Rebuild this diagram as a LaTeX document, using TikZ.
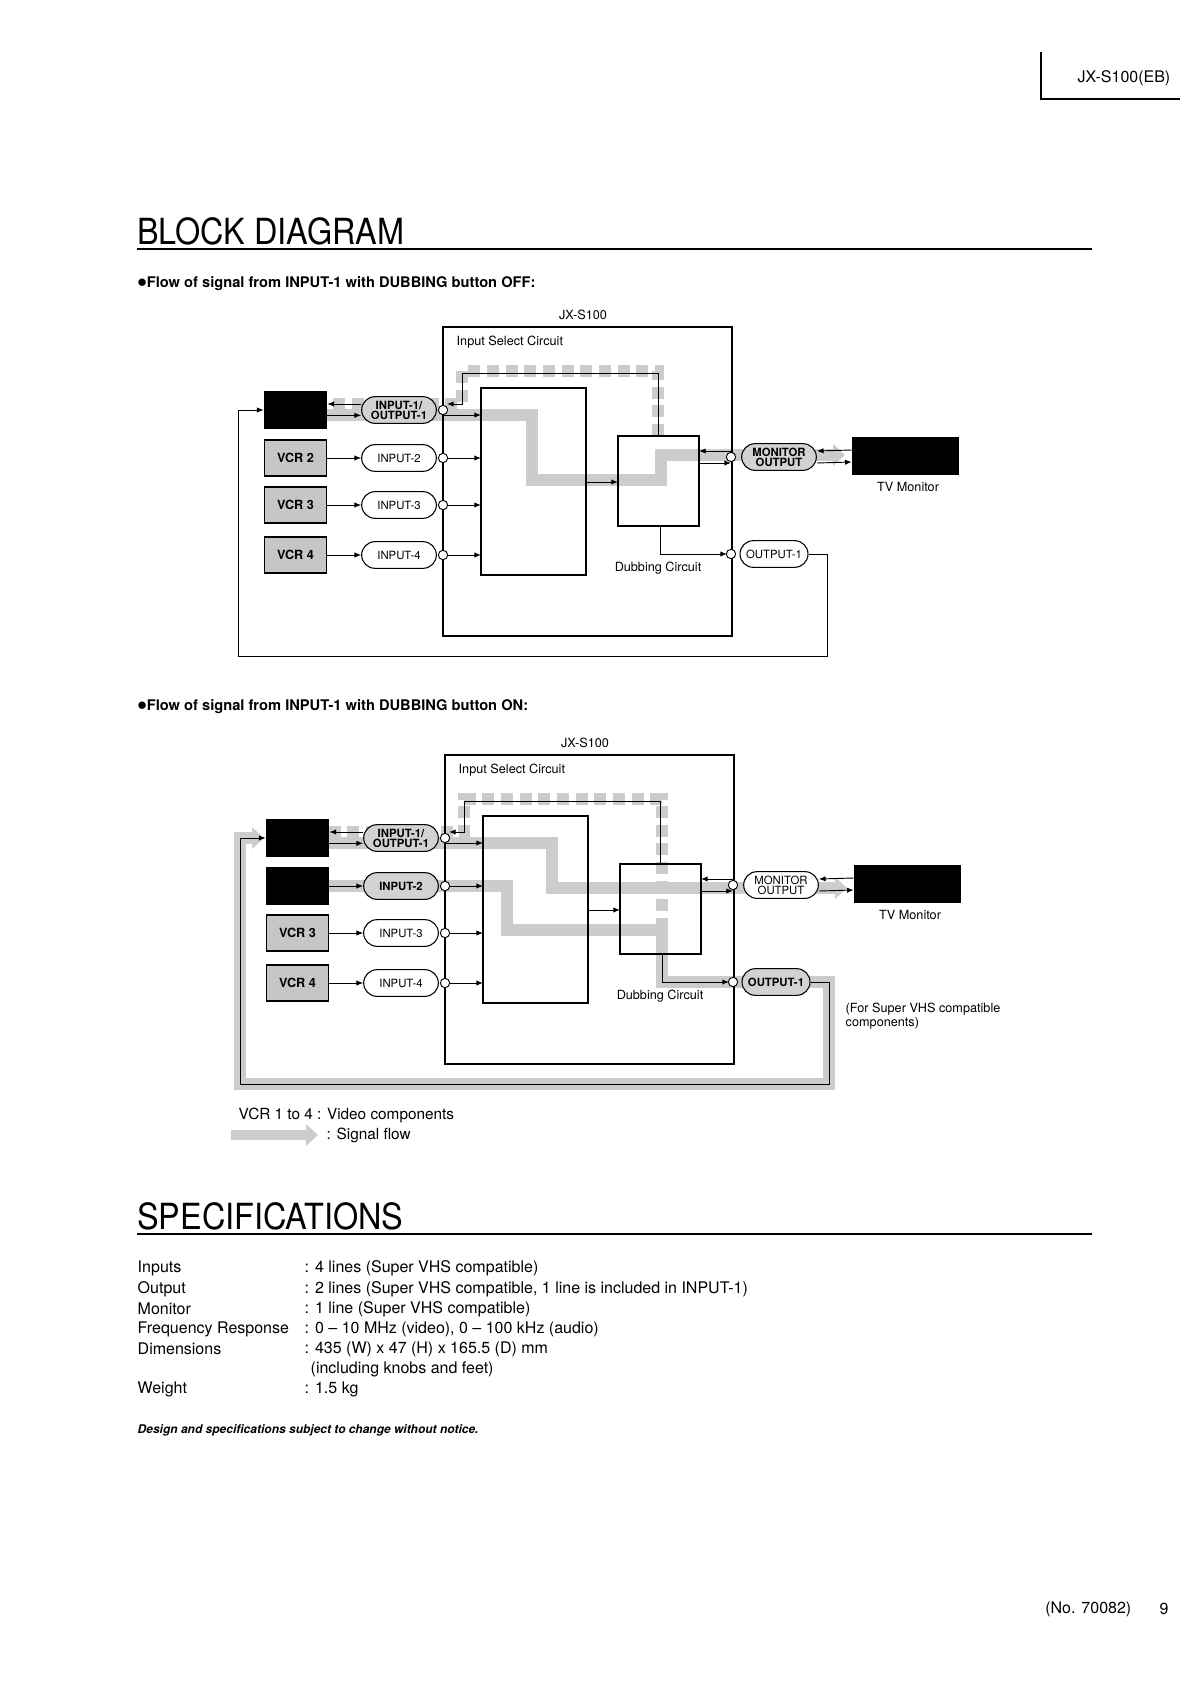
\documentclass[tikz,border=0pt]{standalone}
\usepackage{fontspec}
\setmainfont{TeX Gyre Heros}
\newfontfamily\condfont[FakeStretch=0.9]{TeX Gyre Heros}
\usetikzlibrary{shapes.misc,arrows.meta}
\tikzset{
 pill/.style={draw,rounded rectangle,fill=white,minimum width=57pt,minimum height=20pt,inner sep=0.5pt,align=center,line width=0.8pt,font=\fontsize{8.5}{7.5}\selectfont},
 pillon/.style={pill,fill=gray!35,font=\bfseries\fontsize{8.5}{7.5}\selectfont},
 vcr/.style={draw,minimum width=47pt,minimum height=27pt,fill=gray!45,line width=0.8pt,font=\bfseries\fontsize{9.5}{10}\selectfont},
 vcrblk/.style={vcr,fill=black},
 jack/.style={circle,draw,fill=white,minimum size=7pt,inner sep=0pt,line width=0.7pt},
 sig/.style={-{Latex[length=5pt,width=4pt]},line width=0.7pt},
 flow/.style={gray!40,line width=9pt,-{Triangle[length=9pt,width=16pt]}},
 flowd/.style={flow,dash pattern=on 9pt off 5pt},
 lbl/.style={font=\fontsize{9.5}{11}\selectfont},
 spec/.style={anchor=west,font=\fontsize{12}{12}\selectfont},
 bul/.style={anchor=west,inner sep=0pt,font=\bfseries\fontsize{11}{11}\selectfont}
}
\newcommand\blockdia[7]{%
 \draw[line width=0.8pt] (443,327) rectangle (732,636);
 \node[lbl,anchor=west] (#1isc) at (452,342) {Input Select Circuit};
 \node[lbl] (#1name) at (583,315) {JX-S100};
 \draw[line width=0.8pt] (481,388) coordinate (#1sNW) rectangle (586,575) coordinate (#1sSE);
 \draw[line width=0.8pt] (618,436) coordinate (#1dNW) rectangle (699,526) coordinate (#1dSE);
 \node[vcrblk] (#1v1) at (295.5,410) {};
 \node[#2] (#1v2) at (295.5,458) {#3};
 \node[vcr] (#1v3) at (295.5,505) {VCR 3};
 \node[vcr] (#1v4) at (295.5,555) {VCR 4};
 \node[pillon] (#1p1) at (399,410) {INPUT-1/\\OUTPUT-1};
 \node[#4] (#1p2) at (399,458) {INPUT-2};
 \node[pill] (#1p3) at (399,505) {INPUT-3};
 \node[pill] (#1p4) at (399,555) {INPUT-4};
 \node[pillon,#5] (#1pm) at (779,457) {MONITOR\\OUTPUT};
 \node[vcrblk,minimum width=80pt,minimum height=28pt] (#1tv) at (905.5,456) {};
 \node[lbl] (#1tvl) at (908,487) {TV Monitor};
 \node[#6,minimum width=52pt] (#1po) at (774,554) {OUTPUT-1};
 \node[lbl] (#1dcl) at (658,568) {Dubbing Circuit};
 \draw[sig] ([yshift=4.5pt]#1p1.west) -- ([yshift=4.5pt]#1v1.east);
 \draw[sig] ([yshift=-4pt]#1v1.east) -- ([yshift=-4pt]#1p1.west);
 \foreach \k in {2,3,4} {\draw[sig] (#1v\k) -- (#1p\k);}
 \draw[sig] (658,436) -- (658,373) -- (462,373) -- (462,404) -- (447,404);
 \draw[sig] (443,415) -- (481,415);
 \foreach \y in {458,505,555} {\draw[sig] (443,\y) -- (481,\y);}
 \draw[sig] (586,482) -- (618,482);
 \draw[sig] (731,451) -- (699,451);
 \draw[sig] (699,463) -- (731,463);
 \draw[sig] ([yshift=4.5pt]#1tv.west) -- ([yshift=4.5pt]#1pm.east);
 \draw[sig] ([yshift=-4.5pt]#1pm.east) -- ([yshift=-4.5pt]#1tv.west);
 \draw[sig] (660,526) -- (660,554) -- (727,554);
 \draw[sig] (#1po.east) -- (827,554) -- (827,656) -- (238,656) -- (238,410) -- (#1v1.west);
 \foreach \y/\n in {410/1,458/2,505/3,555/4} {\node[jack] (#1j\n) at (443,\y) {};}
 \node[jack] (#1jm) at (731,457) {};
 \node[jack] (#1jo) at (731,554) {};
 #7
}
\begin{document}
\begin{tikzpicture}[x=0.75pt,y=-0.75pt]
\useasboundingbox[fill=white] (0,0) rectangle (1191,1683);
\draw[line width=0.8pt] (1041,52) coordinate (hA) -- (1041,99) -- (1180,99);
\node[font=\fontsize{12}{12}\selectfont] (hdr) at (1124,78) {JX-S100(EB)};
\node[anchor=south west,inner sep=0pt,font=\condfont\fontsize{27}{27}\selectfont] (t1) at (137,245) {BLOCK DIAGRAM};
\draw[line width=1.4pt] (137,249) -- (1092,249);
\node[bul] (b1) at (137,284) {{\Large$\bullet$}Flow of signal from INPUT-1 with DUBBING button OFF:};
\begin{scope}
 \draw[flow] (327,415) -- (532,415) -- (532,480) -- (661,480) -- (661,455) -- (845,455);
 \draw[flowd] (658,436) -- (658,371) -- (462,371) -- (462,404) -- (268,404);
 \blockdia{a}{vcr}{VCR 2}{pill}{}{pill}{}
\end{scope}
\node[bul] (b2) at (137,707) {{\Large$\bullet$}Flow of signal from INPUT-1 with DUBBING button ON:};
\begin{scope}[shift={(2,428)}]
 \draw[flow] (327,415) -- (550,415) -- (550,460) -- (845,460);
 \draw[flow] (327,458) -- (505,458) -- (505,502) -- (660,502) -- (660,554) -- (827,554) -- (827,656) -- (238,656) -- (238,410) -- (262,410);
 \draw[flowd] (660,502) -- (660,371) -- (462,371) -- (462,404) -- (268,404);
 \blockdia{b}{vcrblk}{}{pillon}{pill}{pillon}{}
\end{scope}
\node[anchor=west,lbl,align=left] (svhs) at (841,1016) {(For Super VHS compatible\\components)};
\node[anchor=west,font=\fontsize{11.5}{11.5}\selectfont] (lg1) at (234,1115) {VCR 1 to 4 : Video components};
\draw[flow,line width=8pt] (231,1135) coordinate (lgA) -- (318,1135) coordinate (lgB);
\node[anchor=west,font=\fontsize{11.5}{11.5}\selectfont] (lg2) at (322,1135) {: Signal flow};
\node[anchor=south west,inner sep=0pt,font=\condfont\fontsize{27}{27}\selectfont] (t2) at (137,1230) {SPECIFICATIONS};
\draw[line width=1.4pt] (137,1234) -- (1092,1234);
\foreach \y/\a/\b in {1268/Inputs/{: 4 lines (Super VHS compatible)},
 1289/Output/{: 2 lines (Super VHS compatible, 1 line is included in INPUT-1)},
 1309/Monitor/{: 1 line (Super VHS compatible)},
 1329/Frequency Response/{: 0 -- 10 MHz (video), 0 -- 100 kHz (audio)},
 1349/Dimensions/{: 435 (W) x 47 (H) x 165.5 (D) mm},
 1389/Weight/{: 1.5 kg}}
 {\node[spec] at (133,\y) {\a}; \node[spec] at (300,\y) {\b};}
\node[spec] (incl) at (306,1369) {(including knobs and feet)};
\node[anchor=west,font=\bfseries\itshape\fontsize{9}{9}\selectfont] (note) at (133,1430) {Design and specifications subject to change without notice.};
\node[anchor=east,font=\fontsize{12}{12}\selectfont] (pg) at (1136,1609) {(No. 70082)};
\node[font=\fontsize{12}{12}\selectfont] (pgn) at (1164,1609) {9};
\end{tikzpicture}
\end{document}
